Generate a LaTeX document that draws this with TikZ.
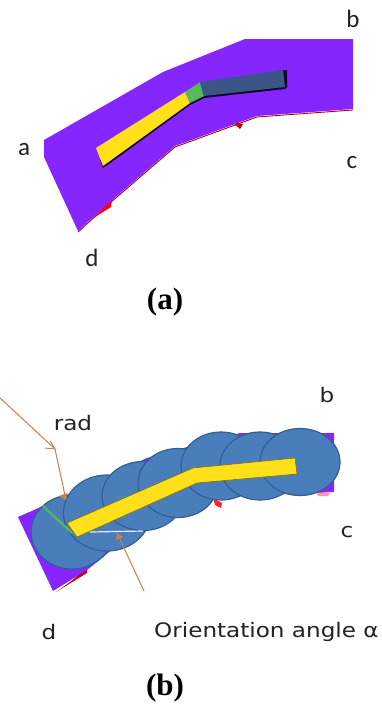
\documentclass[tikz,border=0pt]{standalone}
\usepackage{fontspec}
\setmainfont{Liberation Serif}
\newfontfamily\lblfont{Carlito}
\newfontfamily\lblfontb[FakeStretch=1.155]{DejaVu Sans}
\definecolor{purp}{HTML}{8525FF}
\definecolor{yel}{HTML}{FFE01A}
\definecolor{grn}{HTML}{55B85A}
\definecolor{navy}{HTML}{3A5586}
\definecolor{disc}{HTML}{4A7EBB}
\definecolor{discedge}{HTML}{2F5F95}
\definecolor{arr}{HTML}{CC8048}
\definecolor{lbl}{HTML}{222222}
\tikzset{
  region/.style={fill=purp,draw=none},
  rededge/.style={draw=red!70!black,line width=.9pt},
  discstyle/.style n args={2}{ellipse,fill=disc,draw=discedge,line width=1.2pt,inner sep=0pt,minimum width=#1,minimum height=#2},
  ptlabel/.style={font=\lblfont\fontsize{25}{25}\selectfont,text=lbl,inner sep=0pt},
  ptlabelb/.style={font=\lblfontb\fontsize{20}{20}\selectfont,text=lbl,inner sep=0pt},
  caption/.style={font=\bfseries\fontsize{31}{31}\selectfont,inner sep=0pt},
  pointer/.style={draw=arr,line width=1pt},
}
\usetikzlibrary{shapes.geometric}
\begin{document}
\begin{tikzpicture}[x=1pt,y=-1pt]
\useasboundingbox (0,0) rectangle (381,704);
% ---- panel (a)
\draw[rededge] (353,110) -- (257,117) -- (175,147) -- (110,203) -- (78,232);
\fill[red] (92,219) -- (112,199) -- (111,207) -- cycle;
\fill[red!80!black] (232,122) -- (243,124) -- (240,129) -- cycle;
\fill[region] (44,140) -- (163,72) -- (245,39) -- (353,39) -- (353,109) -- (257,116) -- (175,146) -- (110,202) -- (78,231) -- (44,157) -- cycle;
\fill[black!85!purp] (103,168) -- (120,156) -- (190,105) -- (204,98) -- (285,89) -- (287,87) -- (287,70) -- (283,70) -- (204,90) -- (100,160) -- cycle;
\fill[yel] (96,148) -- (185,92) -- (190,103) -- (103,166) -- cycle;
\fill[grn] (185,92) -- (200,82) -- (204,96) -- (190,103) -- cycle;
\fill[navy] (200,82) -- (283,70) -- (285,87) -- (204,96) -- cycle;
\node[ptlabel] (a1) at (24,150) {a};
\node[ptlabel] (b1) at (353,19) {b};
\node[ptlabel] (c1) at (352,163) {c};
\node[ptlabel] (d1) at (92,258) {d};
\node[caption] (capa) at (165,302) {(a)};
% ---- panel (b)
\fill[red!80!black] (70,582) -- (87,568) -- (87,573) -- (56,592) -- cycle;
\fill[red!85!white] (213,498) -- (222,503) -- (221,508) -- (215,505) -- cycle;
\fill[red!40!white] (316,492) -- (330,493) -- (328,496) -- (318,496) -- cycle;
\fill[region] (18,517) -- (43,506) -- (147,458) -- (187,447) -- (240,433) -- (334,433) -- (334,492) -- (290,494) -- (240,494) -- (217,497) -- (175,510) -- (130,535) -- (87,570) -- (53,591) -- cycle;
\node[discstyle={82pt}{74pt}] (c7) at (72,532) {};
\node[discstyle={87pt}{76pt}] (c6) at (107,513) {};
\node[discstyle={82pt}{69pt}] (c5) at (143,496) {};
\node[discstyle={80pt}{69pt}] (c4) at (178,483) {};
\node[discstyle={80pt}{68pt}] (c3) at (221,466) {};
\node[discstyle={80pt}{68pt}] (c2) at (260,466) {};
\node[discstyle={80pt}{67pt}] (c1x) at (300,462) {};
\draw[grn,line width=2.2pt] (43,506) -- (72,533);
\fill[yel,draw=black!50!yel,line width=.6pt] (67,523) -- (193,468) -- (295,458) -- (297,474) -- (197,483) -- (77,537) -- cycle;
\coordinate (ws) at (90,532);
\coordinate (we) at (143,531);
\draw[white!85!disc,line width=1.2pt] (ws) -- (we);
\coordinate (p0) at (0,398);
\coordinate (p1) at (55,449);
\coordinate (p2) at (66,500);
\coordinate (q0) at (144,591);
\coordinate (q1) at (117,533);
\draw[pointer] (p0) -- (p1);
\draw[pointer] (45,448) -- (p1) -- (50,441);
\draw[pointer] (p1) -- (p2);
\fill[arr] (p2) -- (59,496) -- (67,493) -- cycle;
\draw[pointer] (q0) -- (q1);
\fill[arr] (q1) -- (116,540) -- (123,537) -- cycle;
\node[ptlabelb] (rad) at (73,423) {rad};
\node[ptlabelb] (b2) at (327,395) {b};
\node[ptlabelb] (c2l) at (347,532) {c};
\node[ptlabelb] (d2) at (49,632) {d};
\node[ptlabelb,anchor=west] (ori) at (154,632) {Orientation angle α};
\node[caption] (capb) at (165,688) {(b)};
\end{tikzpicture}
\end{document}
